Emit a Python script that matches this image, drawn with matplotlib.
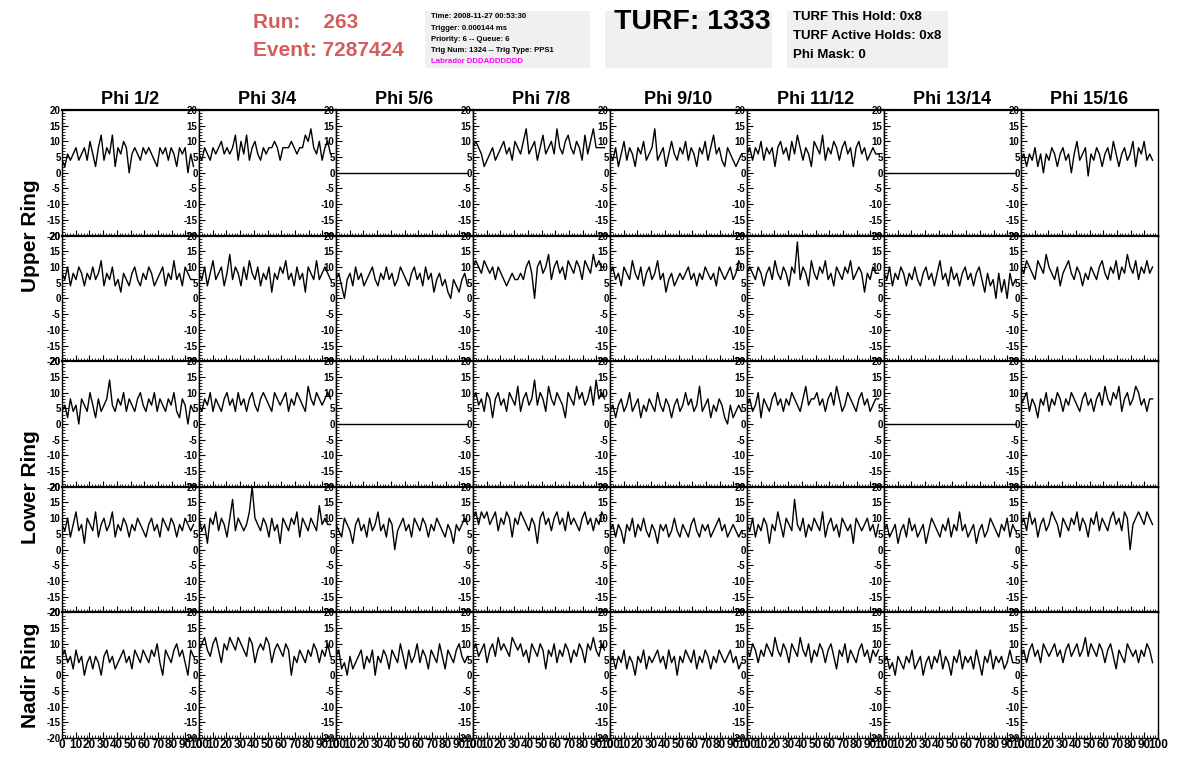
import numpy as np
import matplotlib
matplotlib.use("Agg")
import matplotlib.pyplot as plt
from matplotlib.patches import Rectangle
from matplotlib.ticker import MultipleLocator

plt.rcParams['font.family'] = ['Liberation Sans', 'DejaVu Sans']
plt.rcParams['axes.unicode_minus'] = False

# ---- header info ----
run_number = 263
event_number = 7287424
info_lines = ["Time: 2008-11-27 00:53:30",
              "Trigger: 0.000144 ms",
              "Priority: 6 -- Queue: 6",
              "Trig Num: 1324 -- Trig Type: PPS1"]
labrador_line = "Labrador DDDADDDDDD"
turf_number = 1333
turf_lines = ["TURF This Hold: 0x8", "TURF Active Holds: 0x8", "Phi Mask: 0"]

phi_labels = ["Phi 1/2", "Phi 3/4", "Phi 5/6", "Phi 7/8",
              "Phi 9/10", "Phi 11/12", "Phi 13/14", "Phi 15/16"]
ring_labels = ["Upper Ring", "Lower Ring", "Nadir Ring"]

# ---- waveforms (samples over 0..96 ns) ----
flat = [0, 0, 0, 0]

upper_a = [
    [4,2,6,4,6,8,4,6,8,4,10,6,2,8,12,4,8,6,12,2,8,6,10,8,0,6,8,6,4,8,6,8,6,4,2,8,6,8,4,8,6,2,8,6,8,0,6,2],
    [6,4,8,6,4,8,6,8,10,6,8,6,8,12,4,10,6,12,4,8,10,6,4,8,6,8,8,10,8,4,8,8,8,10,8,6,8,8,12,10,14,8,6,10,4,8,10,6],
    flat,
    [8,10,8,6,2,4,6,8,4,6,8,10,6,8,4,10,8,6,10,14,6,8,10,4,8,12,6,8,10,6,14,8,6,10,12,8,6,10,8,4,12,6,10,14,8,8,8,8],
    [6,4,8,2,6,10,4,8,6,2,8,6,10,4,6,8,14,4,6,8,2,6,10,6,4,8,6,10,4,8,6,2,8,6,10,4,8,12,6,8,4,2,8,6,4,2,4,6],
    [6,8,4,8,6,10,4,8,6,8,2,8,10,6,8,4,10,6,12,8,4,8,6,2,10,8,6,12,4,8,6,10,8,4,8,10,6,8,2,8,10,6,8,4,6,8,6,6],
    flat,
    [4,6,2,6,4,8,2,6,0,6,4,8,6,2,6,8,4,6,0,6,10,4,6,8,-1,6,4,8,6,2,6,8,4,10,6,2,6,8,4,6,10,2,8,6,10,4,6,4],
]
upper_b = [
    [8,6,10,4,8,6,10,8,4,8,6,10,6,8,12,4,8,6,10,4,6,2,8,6,4,8,10,6,4,8,6,10,8,4,6,8,10,4,8,6,12,6,8,4,10,8,6,6],
    [8,6,10,4,8,12,6,8,10,4,8,14,6,10,8,4,10,6,12,8,6,10,4,8,6,10,2,8,6,10,8,12,6,8,4,10,6,8,2,10,8,6,12,6,8,10,8,6],
    [6,8,4,0,6,8,4,10,6,8,4,6,8,10,6,4,8,6,10,6,8,4,6,10,8,6,4,8,10,6,8,4,10,6,8,2,6,8,4,6,2,0,6,4,2,6,8,4],
    [10,12,10,8,12,10,8,10,6,10,8,6,4,6,8,6,6,8,6,10,12,8,0,10,12,8,10,14,6,10,12,8,10,6,12,10,8,12,10,6,12,10,8,14,10,12,10,10],
    [8,10,6,8,4,10,8,6,12,8,6,10,4,8,10,6,8,12,6,8,2,6,8,4,6,8,6,8,10,6,8,4,8,6,10,8,6,8,4,10,8,6,8,10,6,8,12,10],
    [8,10,8,6,10,8,4,8,10,6,12,8,6,10,8,4,10,8,18,6,10,8,4,12,8,6,10,8,12,6,8,4,10,8,6,10,8,12,6,8,10,8,2,8,6,10,8,8],
    [8,6,10,4,8,6,10,8,4,8,6,10,6,4,8,10,6,8,4,8,12,6,8,4,10,6,8,4,8,10,6,8,4,8,10,6,2,8,4,6,0,8,2,6,0,8,4,6],
    [10,8,12,10,8,6,12,10,8,14,10,8,6,10,4,8,10,12,8,6,10,8,4,8,6,10,8,6,10,12,8,6,10,8,12,6,10,8,14,10,8,12,6,10,8,12,8,10],
]
lower_a = [
    [4,6,2,8,4,6,0,8,6,4,10,6,2,8,4,6,8,14,6,4,8,6,10,4,8,6,4,8,10,6,4,8,6,10,4,8,6,4,8,6,10,4,2,8,6,0,6,4],
    [6,4,8,6,10,4,8,6,4,8,10,6,8,4,10,6,8,4,8,10,6,4,8,10,8,6,4,10,8,6,8,10,4,8,6,10,8,6,4,12,8,6,10,8,6,8,10,8],
    flat,
    [8,10,6,8,4,10,8,2,8,10,6,8,4,10,8,6,12,4,8,10,6,8,14,6,10,8,4,12,8,6,10,8,6,2,10,8,6,12,8,10,6,8,12,6,14,8,10,8],
    [4,6,2,6,8,4,6,10,4,6,8,2,6,4,8,6,4,10,6,4,8,6,2,6,8,4,6,10,6,8,4,6,12,4,6,8,2,6,4,8,6,2,0,6,2,4,6,4],
    [6,8,4,6,10,2,8,6,4,8,10,6,8,4,8,6,10,8,6,4,8,12,6,8,8,10,6,8,4,8,10,6,12,8,4,6,10,8,6,4,8,10,6,8,4,6,8,8],
    flat,
    [6,8,10,4,8,6,2,8,6,10,4,8,6,10,8,4,8,6,10,8,6,4,8,10,6,8,4,8,10,6,12,8,6,10,8,12,4,8,10,6,8,12,10,6,8,4,8,8],
]
lower_b = [
    [8,6,10,4,8,12,6,8,2,10,8,6,12,4,8,10,6,8,12,4,8,6,10,8,4,8,6,10,8,6,4,8,10,6,8,4,10,8,6,10,8,4,8,6,10,8,6,8],
    [10,6,8,2,10,8,12,6,10,8,4,10,16,6,10,8,6,8,12,20,10,8,6,10,8,4,10,6,8,2,10,8,6,10,8,12,4,10,8,6,10,8,6,14,8,10,8,8],
    [8,6,4,10,8,6,2,8,10,6,8,4,10,6,8,12,6,8,4,10,8,0,6,8,10,6,8,4,10,8,6,10,8,4,8,6,10,8,6,4,8,6,2,8,6,8,10,8],
    [10,12,8,12,10,12,8,10,12,6,10,8,12,10,4,10,8,12,10,8,6,10,8,2,10,12,8,10,6,10,12,8,10,6,12,8,10,8,6,10,12,8,10,6,10,8,12,10],
    [6,8,4,8,6,2,8,6,10,4,8,6,10,6,4,8,6,2,8,6,8,4,6,10,6,4,8,6,4,8,10,6,4,8,6,8,4,6,8,10,6,8,4,6,8,6,4,6],
    [8,6,10,4,8,6,10,8,2,8,6,12,8,4,10,8,6,16,8,6,10,4,8,6,10,8,6,12,4,8,10,6,8,4,10,8,6,8,2,10,8,6,8,10,6,8,4,8],
    [6,8,4,6,8,2,6,8,4,10,6,8,4,6,8,2,6,10,8,6,4,8,6,10,4,8,6,12,6,8,4,6,8,2,6,8,4,6,10,8,6,4,8,6,10,4,8,6],
    [8,10,6,12,8,10,4,8,10,6,8,12,10,8,4,10,8,6,10,8,12,6,10,8,4,10,8,12,6,10,8,6,10,12,8,10,6,12,10,0,8,10,12,10,8,12,10,8],
]
nadir = [
    [6,8,4,6,2,8,4,6,0,4,6,2,6,4,0,6,8,4,6,2,4,6,8,4,6,2,8,6,4,8,6,4,8,6,10,4,0,8,6,4,8,10,6,8,4,0,8,6],
    [8,10,12,8,6,10,12,8,4,10,8,12,10,8,12,10,8,6,12,10,4,8,10,8,12,10,4,8,10,8,6,10,8,0,6,4,8,6,4,8,6,10,8,4,8,6,10,6],
    [6,8,2,4,0,6,2,4,6,8,2,6,4,8,0,6,4,8,6,2,8,6,4,10,6,2,8,4,6,10,4,8,6,2,8,6,4,10,6,2,8,6,4,8,10,6,4,6],
    [8,10,6,8,10,4,8,10,6,12,8,10,8,6,12,10,8,10,6,8,4,10,8,6,10,8,2,8,6,10,4,8,6,10,8,4,8,6,10,8,4,10,8,12,8,6,10,8],
    [4,6,2,6,4,8,2,6,4,0,6,4,8,2,6,4,6,8,4,6,2,8,4,6,0,6,4,8,6,4,8,2,6,4,8,6,2,6,4,8,6,4,6,8,4,6,2,4],
    [8,6,10,8,4,8,6,10,8,6,12,8,6,10,8,4,10,8,6,12,8,6,10,4,8,6,10,8,4,8,10,6,2,8,6,10,4,8,6,4,8,10,6,8,4,8,6,8],
    [4,6,2,4,0,6,4,2,6,4,8,2,4,6,0,4,6,2,6,4,8,2,6,4,0,6,4,8,2,6,4,6,2,8,4,0,6,4,8,2,6,4,6,2,4,8,4,4],
    [6,8,4,8,10,6,8,4,10,8,6,8,10,6,8,4,8,10,6,8,10,6,8,12,6,10,8,6,10,8,4,8,10,6,2,8,6,4,10,8,6,8,4,8,6,10,8,4],
]
rows = [upper_a, upper_b, lower_a, lower_b, nadir]

W, H = 1196, 772
fig = plt.figure(figsize=(W / 100, H / 100), dpi=100)


def fx(px):
    return px / W


def fy(py):
    return 1 - py / H


gs = fig.add_gridspec(5, 8, left=fx(62), right=fx(1158), top=fy(110), bottom=fy(738),
                      wspace=0, hspace=0)

for r, row in enumerate(rows):
    for c, wave in enumerate(row):
        ax = fig.add_subplot(gs[r, c])
        y = np.asarray(wave, dtype=float)
        x = np.linspace(0, 96, len(y))
        ax.plot(x, y, color='black', lw=1.0)
        ax.set_xlim(0, 100)
        ax.set_ylim(-20, 20)
        ax.yaxis.set_major_locator(MultipleLocator(5))
        ax.yaxis.set_minor_locator(MultipleLocator(1))
        ax.xaxis.set_major_locator(MultipleLocator(10))
        ax.xaxis.set_minor_locator(MultipleLocator(2))
        ax.tick_params(which='both', direction='in', top=False, right=False)
        ax.tick_params(which='major', length=4, width=0.8)
        ax.tick_params(which='minor', length=2, width=0.6)
        ax.tick_params(axis='y', labelsize=7, pad=1)
        ax.tick_params(axis='x', labelsize=8.5, pad=1)
        for lab in ax.get_yticklabels():
            lab.set_fontweight('bold')
        if r == len(rows) - 1:
            for lab in ax.get_xticklabels():
                lab.set_fontweight('bold')
        else:
            ax.set_xticklabels([])
        for s in ax.spines.values():
            s.set_linewidth(1.0)
        ax.spines['top'].set_linewidth(1.6)

# column titles
col_w = (1158 - 62) / 8
for c, lab in enumerate(phi_labels):
    fig.text(fx(62 + col_w * (c + 0.5)), fy(99), lab, ha='center', va='center',
             fontsize=13, fontweight='bold')

# ring labels
for lab, ypx in zip(ring_labels, [236, 487, 675]):
    fig.text(fx(30), fy(ypx), lab, ha='center', va='center', rotation=90,
             fontsize=15, fontweight='bold')

# header: run/event
red = '#d65c5c'
fig.text(fx(253), fy(22), f"Run:    {run_number}", ha='left', va='center',
         fontsize=15, fontweight='bold', color=red)
fig.text(fx(253), fy(50), f"Event: {event_number}", ha='left', va='center',
         fontsize=15, fontweight='bold', color=red)

# gray info boxes
box_color = '#f0f0f0'
for x0, x1 in [(425, 590), (605, 772), (787, 948)]:
    fig.add_artist(Rectangle((fx(x0), fy(68)), fx(x1) - fx(x0), fy(11) - fy(68),
                             transform=fig.transFigure, facecolor=box_color,
                             edgecolor='none', zorder=0))

for i, line in enumerate(info_lines):
    fig.text(fx(431), fy(17 + i * 11.2), line, ha='left', va='center',
             fontsize=5.6, fontweight='bold')
fig.text(fx(431), fy(61.5), labrador_line, ha='left', va='center',
         fontsize=5.6, fontweight='bold', color='#ff00ff')

fig.text(fx(614), fy(22), f"TURF: {turf_number}", ha='left', va='center',
         fontsize=20.5, fontweight='bold')
for i, line in enumerate(turf_lines):
    fig.text(fx(793), fy(17 + i * 19), line, ha='left', va='center',
             fontsize=9.5, fontweight='bold')

fig.savefig("out.png", dpi=100)
